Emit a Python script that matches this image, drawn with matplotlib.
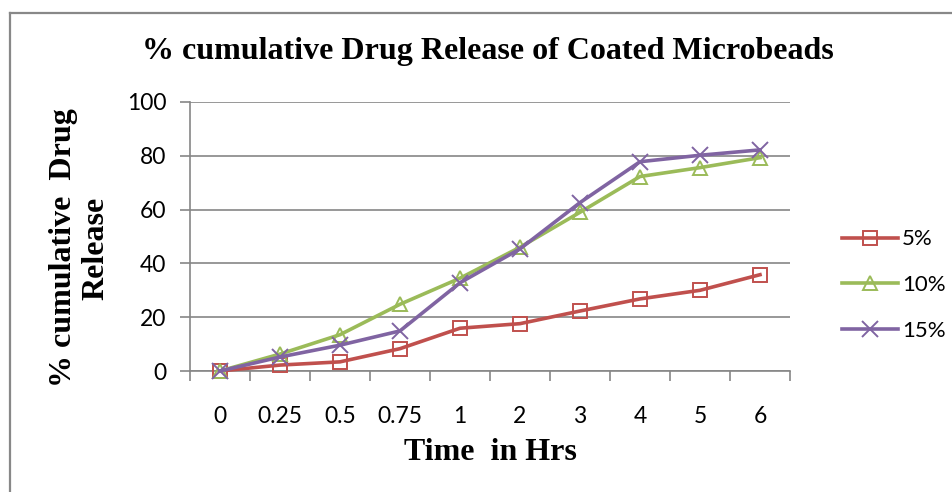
import matplotlib
matplotlib.use("Agg")
import matplotlib.pyplot as plt
from matplotlib.lines import Line2D

categories = ["0", "0.25", "0.5", "0.75", "1", "2", "3", "4", "5", "6"]
series_names = ["5%", "10%", "15%"]
release_5 = [0, 2.2, 3.4, 8.3, 15.9, 17.6, 22.3, 26.8, 30.0, 35.8]
release_10 = [0, 6.3, 13.5, 24.8, 34.5, 46.0, 59.0, 72.3, 75.6, 79.3]
release_15 = [0, 5.2, 9.6, 14.9, 32.8, 45.4, 62.6, 77.8, 80.2, 82.2]
yticks = [0, 20, 40, 60, 80, 100]

colors = ["#C0504D", "#9BBB59", "#8064A2"]
markers = ["s", "^", "x"]

W, H = 952, 492
fig = plt.figure(figsize=(W / 100, H / 100), dpi=100)
ax = fig.add_axes([190 / W, (H - 371) / H, 600 / W, 269 / H])

x = list(range(len(categories)))
for vals, c, m, name in zip([release_5, release_10, release_15], colors, markers, series_names):
    ax.plot(x, vals, color=c, lw=2.6, marker=m, markersize=10.5 if m != "x" else 11,
            markerfacecolor="none", markeredgecolor=c, markeredgewidth=1.4,
            label=name, zorder=3, clip_on=False)

ax.set_xlim(-0.5, len(categories) - 0.5)
ax.set_ylim(0, 100)
ax.set_yticks(yticks)
ax.set_yticklabels([str(v) for v in yticks], fontsize=16.5, family="Lato")
ax.yaxis.grid(True, color="#868686", lw=1.2)
ax.set_axisbelow(True)

ax.set_xticks([i - 0.5 for i in range(len(categories) + 1)])
ax.set_xticklabels([])
ax.set_xticks(x, minor=True)
ax.set_xticklabels(categories, minor=True, fontsize=16.5, family="Lato")
ax.tick_params(axis="x", which="major", length=7, width=1.2, color="#868686", direction="out")
ax.tick_params(axis="x", which="minor", length=0, pad=25)
ax.tick_params(axis="y", which="major", length=7, width=1.2, color="#868686", direction="out", pad=10)

for s in ["top", "right"]:
    ax.spines[s].set_visible(False)
for s in ["left", "bottom"]:
    ax.spines[s].set_color("#868686")
    ax.spines[s].set_linewidth(1.2)

fig.text(488 / W, 1 - 52 / H, "% cumulative Drug Release of Coated Microbeads",
         ha="center", va="center", fontsize=23, fontweight="bold", family="Liberation Serif")
fig.text(490 / W, 1 - 452 / H, "Time  in Hrs", ha="center", va="center",
         fontsize=23, fontweight="bold", family="Liberation Serif")
fig.text(80 / W, 1 - 248 / H, "% cumulative  Drug\nRelease", ha="center", va="center",
         rotation=90, multialignment="center", fontsize=23, fontweight="bold",
         family="Liberation Serif", linespacing=1.15)

handles, labels = ax.get_legend_handles_labels()
leg = fig.legend(handles, labels, loc="center left", bbox_to_anchor=(831 / W, 1 - 285 / H),
                 frameon=False, handlelength=2.5, handletextpad=0.2,
                 labelspacing=1.15, borderpad=0, prop={"family": "Lato", "size": 16})

# outer chart frame (top and left edges visible)
fig.add_artist(Line2D([9.5 / W, 9.5 / W], [0, 1 - 12.5 / H], color="#888888", lw=1.6,
                      transform=fig.transFigure))
fig.add_artist(Line2D([9.5 / W, 1], [1 - 12.5 / H, 1 - 12.5 / H], color="#888888", lw=1.6,
                      transform=fig.transFigure))

fig.savefig("out.png", dpi=100)
